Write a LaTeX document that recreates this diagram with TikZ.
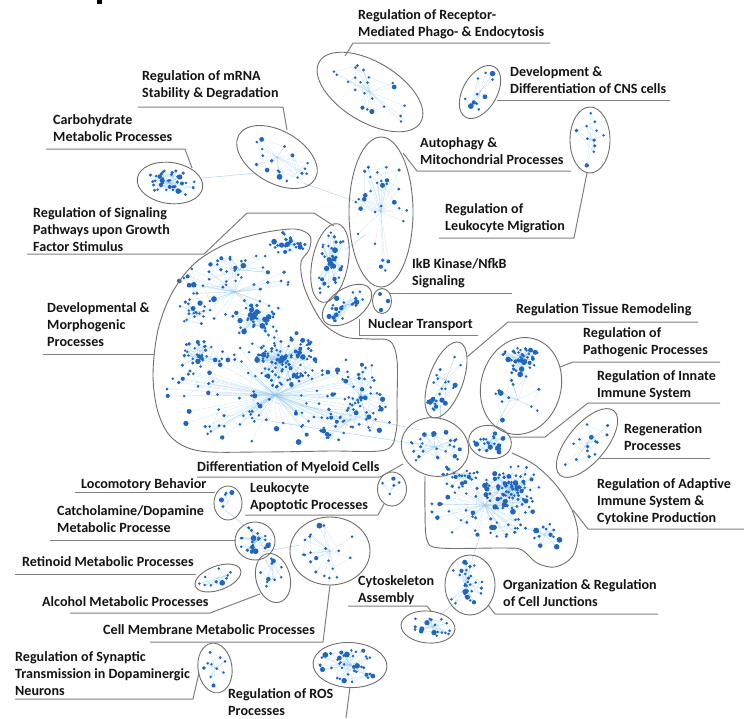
\documentclass[tikz,border=0pt]{standalone}
\usepackage{fontspec}
\setmainfont{Carlito}[BoldFont={Carlito Bold}]
\usetikzlibrary{shapes.geometric}
\definecolor{txt}{HTML}{141414}
\definecolor{ringc}{HTML}{6E6E6E}
\definecolor{leadc}{HTML}{7F7F7F}
\definecolor{dotc}{HTML}{1F66BC}
\definecolor{edgec}{HTML}{8CC4EC}
\newif\ifnetedge
\newcommand\netdots[8]{%
  \pgfmathsetseed{#7}%
  \xdef\nLX{#1}\xdef\nLY{#2}%
  \foreach \k in {1,...,#6}{%
    \pgfmathsetmacro\nRr{pow(rnd*0.98+0.01,#8)}%
    \pgfmathsetmacro\nTh{360*rnd}%
    \pgfmathsetmacro\nU{#3*\nRr*cos(\nTh)}%
    \pgfmathsetmacro\nV{#4*\nRr*sin(\nTh)}%
    \pgfmathsetmacro\nX{#1+(\nU)*cos(#5)+(\nV)*sin(#5)}%
    \pgfmathsetmacro\nY{#2-(\nU)*sin(#5)+(\nV)*cos(#5)}%
    \pgfmathsetmacro\nS{1.4+1.6*pow(rnd*0.98+0.01,4)}%
    \ifnetedge
      \draw[edge] (#1,#2) -- (\nX,\nY);
      \pgfmathsetmacro\nD{veclen(\nX-\nLX,\nY-\nLY)}%
      \ifdim\nD pt<30pt \draw[edge] (\nX,\nY) -- (\nLX,\nLY);\fi
    \else
      \fill[dotc] (\nX,\nY) circle[radius=\nS pt];
    \fi
    \xdef\nLX{\nX}\xdef\nLY{\nY}%
  }%
}
\newcommand\allnets{%
\netdots{370}{92}{50}{24}{-31}{22}{11}{0.6}%
\netdots{480}{92}{24}{13}{60}{12}{12}{0.6}%
\netdots{590}{140}{15}{27}{0}{11}{13}{0.6}%
\netdots{381}{212}{26}{66}{0}{30}{14}{0.6}%
\netdots{277}{157}{38}{21}{-30}{18}{15}{0.6}%
\netdots{170}{183}{28}{15}{-8}{40}{16}{0.7}%
\netdots{330}{263}{34}{13}{79}{40}{17}{0.7}%
\netdots{347}{305}{23}{12}{35}{22}{18}{0.7}%
\netdots{283}{358}{35}{32}{0}{110}{21}{1.0}%
\netdots{255}{318}{28}{22}{0}{40}{22}{0.8}%
\netdots{288}{244}{20}{12}{0}{25}{23}{0.8}%
\netdots{197}{357}{28}{18}{0}{30}{24}{0.8}%
\netdots{195}{312}{18}{13}{0}{16}{25}{0.8}%
\netdots{275}{395}{110}{50}{0}{110}{26}{0.5}%
\netdots{360}{395}{28}{40}{0}{25}{27}{0.6}%
\netdots{240}{270}{35}{22}{0}{20}{28}{0.6}%
\netdots{235}{292}{62}{34}{0}{40}{29}{0.5}%
\netdots{350}{420}{40}{24}{0}{25}{30}{0.5}%
\netdots{446}{380}{34}{12}{70}{16}{31}{0.6}%
\netdots{433}{403}{10}{8}{0}{12}{32}{0.8}%
\netdots{521}{360}{20}{15}{0}{45}{33}{0.8}%
\netdots{518}{400}{30}{25}{0}{12}{34}{0.5}%
\netdots{490}{442}{17}{12}{0}{22}{35}{0.7}%
\netdots{587}{443}{36}{14}{50}{14}{36}{0.6}%
\netdots{435}{447}{28}{22}{-15}{28}{37}{0.7}%
\netdots{512}{488}{28}{26}{0}{80}{38}{0.9}%
\netdots{485}{505}{55}{35}{0}{55}{39}{0.5}%
\netdots{545}{535}{22}{12}{-20}{15}{40}{0.6}%
\netdots{460}{475}{18}{13}{0}{20}{41}{0.7}%
\netdots{392}{489}{11}{13}{0}{5}{42}{0.6}%
\netdots{228}{503}{10}{12}{0}{5}{43}{0.6}%
\netdots{255}{541}{16}{15}{0}{25}{44}{0.7}%
\netdots{218}{578}{20}{9}{20}{10}{45}{0.6}%
\netdots{273}{578}{13}{20}{15}{10}{46}{0.6}%
\netdots{330}{551}{34}{28}{0}{20}{47}{0.6}%
\netdots{432}{627}{22}{12}{-5}{18}{48}{0.6}%
\netdots{466}{585}{20}{24}{0}{30}{49}{0.9}%
\netdots{215}{668}{13}{20}{8}{10}{50}{0.6}%
\netdots{350}{665}{32}{17}{-3}{40}{51}{0.7}%
}
\tikzset{
  lab/.style={font=\bfseries\fontsize{14.1}{17}\selectfont, align=left, anchor=north west, inner sep=0pt, text=txt},
  lead/.style={draw=leadc, line width=1pt, line join=round},
  clus/.style={ellipse, draw=ringc, line width=0.9pt, inner sep=0pt, outer sep=0pt},
  blob/.style={draw=ringc, line width=0.9pt},
  edge/.style={draw=edgec, line width=0.3pt, opacity=0.45},
  link/.style={draw=edgec, line width=0.6pt, opacity=0.6}
}
\begin{document}
\begin{tikzpicture}[x=1pt,y=-1pt]
\useasboundingbox (0,0) rectangle (744,718);
\fill[black] (97,0) rectangle (102,4);

% ---------- inter-cluster links ----------
\draw[link] (203,178) -- (257,173);
\draw[link] (303,183) -- (357,202);
\draw[link] (250,418) -- (410,443);
\draw[link] (300,405) -- (420,430);
\draw[link] (480,535) -- (472,560);
\draw[link] (458,600) -- (440,615);
\draw[link] (262,552) -- (300,545);
\draw[link] (265,560) -- (272,570);
\draw[link] (490,437) -- (510,400);
\draw[link] (440,420) -- (440,405);
\draw[link] (225,510) -- (250,530);
\draw[link] (345,250) -- (365,235);

% ---------- network: edges, then dots ----------
\global\netedgetrue
\allnets
\global\netedgefalse
\allnets
\fill[dotc] (380,294) circle[radius=2pt] (388,301) circle[radius=2.2pt] (381,310) circle[radius=2.2pt];

% ---------- cluster outlines ----------
\node[clus, minimum width=118pt, minimum height=60pt, rotate=-31] (cA) at (370,92) {};
\node[clus, minimum width=58pt, minimum height=34pt, rotate=60] (cB) at (480,92) {};
\node[clus, minimum width=40pt, minimum height=66pt] (cC) at (590,140) {};
\node[clus, minimum width=64pt, minimum height=150pt] (cD) at (381,212) {};
\node[clus, minimum width=88pt, minimum height=52pt, rotate=-30] (cE) at (277,157) {};
\node[clus, minimum width=66pt, minimum height=41pt, rotate=-8] (cF) at (170,183) {};
\node[clus, minimum width=80pt, minimum height=36pt, rotate=79] (cG) at (330,263) {};
\node[clus, minimum width=56pt, minimum height=32pt, rotate=35] (cN) at (347,305) {};
\node[clus, minimum width=19pt, minimum height=25pt] (cI) at (382,301) {};
\node[clus, minimum width=80pt, minimum height=34pt, rotate=70] (cK) at (446,380) {};
\node[clus, minimum width=98pt, minimum height=80pt, rotate=75] (cL) at (521,386) {};
\node[clus, minimum width=43pt, minimum height=33pt, rotate=-10] (cM) at (490,442) {};
\node[clus, minimum width=84pt, minimum height=38pt, rotate=50] (cRg) at (587,443) {};
\node[clus, minimum width=68pt, minimum height=58pt, rotate=-15] (cP) at (435,447) {};
\node[clus, minimum width=29pt, minimum height=34pt] (cQ) at (392,489) {};
\node[clus, minimum width=28pt, minimum height=34pt] (cR) at (228,503) {};
\node[clus, minimum width=40pt, minimum height=38pt] (cS) at (255,541) {};
\node[clus, minimum width=48pt, minimum height=24pt, rotate=20] (cT) at (218,578) {};
\node[clus, minimum width=34pt, minimum height=50pt, rotate=15] (cU) at (273,578) {};
\node[clus, minimum width=80pt, minimum height=68pt] (cV) at (330,551) {};
\node[clus, minimum width=54pt, minimum height=32pt, rotate=-5] (cW) at (428,627) {};
\node[clus, minimum width=50pt, minimum height=60pt] (cX) at (470,585) {};
\node[clus, minimum width=34pt, minimum height=50pt, rotate=8] (cY) at (215,668) {};
\node[clus, minimum width=74pt, minimum height=45pt, rotate=-3] (cZ) at (350,665) {};

% developmental & morphogenic region
\draw[blob] plot[smooth cycle, tension=0.55] coordinates {
 (153,375) (158,330) (172,293) (195,263) (228,243) (262,233) (295,229) (310,236) (309,250)
 (301,262) (303,283) (312,305) (325,325) (345,337) (370,339) (390,341) (397,360) (397,400)
 (396,432) (385,450) (330,451) (260,452) (200,451) (172,438) (158,412)};
% adaptive immune region
\draw[blob] plot[smooth, tension=0.55] coordinates {
 (512,453) (535,465) (556,485) (572,510) (578,535) (572,557) (555,567) (537,563) (522,550)
 (505,548) (440,548) (427,540) (425,510) (425,476)};

% ---------- labels ----------
\node[lab] (t1) at (358,9) {Regulation of Receptor-\\Mediated Phago- \& Endocytosis};
\node[lab] (t2) at (510,66) {Development \&\\Differentiation of CNS cells};
\node[lab] (t3) at (420,137) {Autophagy \&\\Mitochondrial Processes};
\node[lab] (t4) at (445,203) {Regulation of\\Leukocyte Migration};
\node[lab] (t5) at (142,70) {Regulation of mRNA\\Stability \& Degradation};
\node[lab] (t6) at (53,114) {Carbohydrate\\Metabolic Processes};
\node[lab] (t7) at (33,207) {Regulation of Signaling\\Pathways upon Growth\\Factor Stimulus};
\node[lab] (t8) at (412,258) {IkB Kinase/NfkB\\Signaling};
\node[lab] (t9) at (368,318) {Nuclear Transport};
\node[lab] (t10) at (47,302) {Developmental \&\\Morphogenic\\Processes};
\node[lab] (t11) at (516,303) {Regulation Tissue Remodeling};
\node[lab] (t12) at (583,327) {Regulation of\\Pathogenic Processes};
\node[lab] (t13) at (597,370) {Regulation of Innate\\Immune System};
\node[lab] (t14) at (624,423) {Regeneration\\Processes};
\node[lab] (t15) at (597,478) {Regulation of Adaptive\\Immune System \&\\Cytokine Production};
\node[lab] (t16) at (197,461) {Differentiation of Myeloid Cells};
\node[lab] (t17) at (250,482) {Leukocyte\\Apoptotic Processes};
\node[lab] (t18) at (81,478) {Locomotory Behavior};
\node[lab] (t19) at (57,505) {Catcholamine/Dopamine\\Metabolic Processe};
\node[lab] (t20) at (22,556) {Retinoid Metabolic Processes};
\node[lab] (t21) at (42,596) {Alcohol Metabolic Processes};
\node[lab] (t22) at (103,624) {Cell Membrane Metabolic Processes};
\node[lab] (t23) at (358,575) {Cytoskeleton\\Assembly};
\node[lab] (t24) at (503,579) {Organization \& Regulation\\of Cell Junctions};
\node[lab] (t25) at (15,651) {Regulation of Synaptic\\Transmission in Dopaminergic\\Neurons};
\node[lab] (t26) at (228,688) {Regulation of ROS\\Processes};

% ---------- leader lines ----------
\coordinate (eA) at (345,56);   \draw[lead] (eA) -- (353,43) -- (550,43);
\coordinate (eB) at (497,100);  \draw[lead] (eB) -- (670,100);
\coordinate (eD) at (403,153);  \draw[lead] (eD) -- (417,171) -- (571,171);
\coordinate (eC) at (587,173);  \draw[lead] (eC) -- (574,238) -- (439,238);
\coordinate (eE) at (287,130);  \draw[lead] (eE) -- (283,107) -- (138,107);
\coordinate (eF) at (192,168);  \draw[lead] (eF) -- (185,149) -- (46,149);
\coordinate (eG) at (334,226);  \draw[lead] (eG) -- (314,213) -- (247,213) -- (204,254) -- (27,254);
\coordinate (eI) at (390,293);  \draw[lead] (eI) -- (512,293);
\coordinate (eN) at (359,319);  \draw[lead] (eN) -- (359,335) -- (478,335);
\coordinate (eJ) at (154,354);  \draw[lead] (eJ) -- (43,354);
\coordinate (eK) at (467,357);  \draw[lead] (eK) -- (508,322) -- (698,322);
\coordinate (eL) at (560,367);  \draw[lead] (eL) -- (573,362) -- (720,362);
\coordinate (eM) at (510,437);  \draw[lead] (eM) -- (545,437) -- (588,403) -- (720,403);
\coordinate (eRg) at (600,458); \draw[lead] (eRg) -- (710,458);
\coordinate (eO) at (573,510);  \draw[lead] (eO) -- (588,529) -- (744,529);
\coordinate (eP) at (403,464);  \draw[lead] (eP) -- (380,477) -- (197,477);
\coordinate (eQ) at (384,504);  \draw[lead] (eQ) -- (378,515) -- (245,515);
\coordinate (eR) at (215,492);  \draw[lead] (eR) -- (75,492);
\coordinate (eS) at (236,540);  \draw[lead] (eS) -- (50,540);
\coordinate (eT) at (196,574);  \draw[lead] (eT) -- (15,574);
\coordinate (eU) at (260,594);  \draw[lead] (eU) -- (210,613) -- (70,613);
\coordinate (eV) at (330,585);  \draw[lead] (eV) -- (323,642) -- (150,642);
\coordinate (eW) at (431,611);  \draw[lead] (eW) -- (427,606) -- (348,606);
\coordinate (eX) at (488,605);  \draw[lead] (eX) -- (495,614) -- (658,614);
\coordinate (eY) at (199,673);  \draw[lead] (eY) -- (193,699) -- (15,699);
\coordinate (eZ) at (350,687);  \draw[lead] (eZ) -- (346,718);
\end{tikzpicture}
\end{document}
